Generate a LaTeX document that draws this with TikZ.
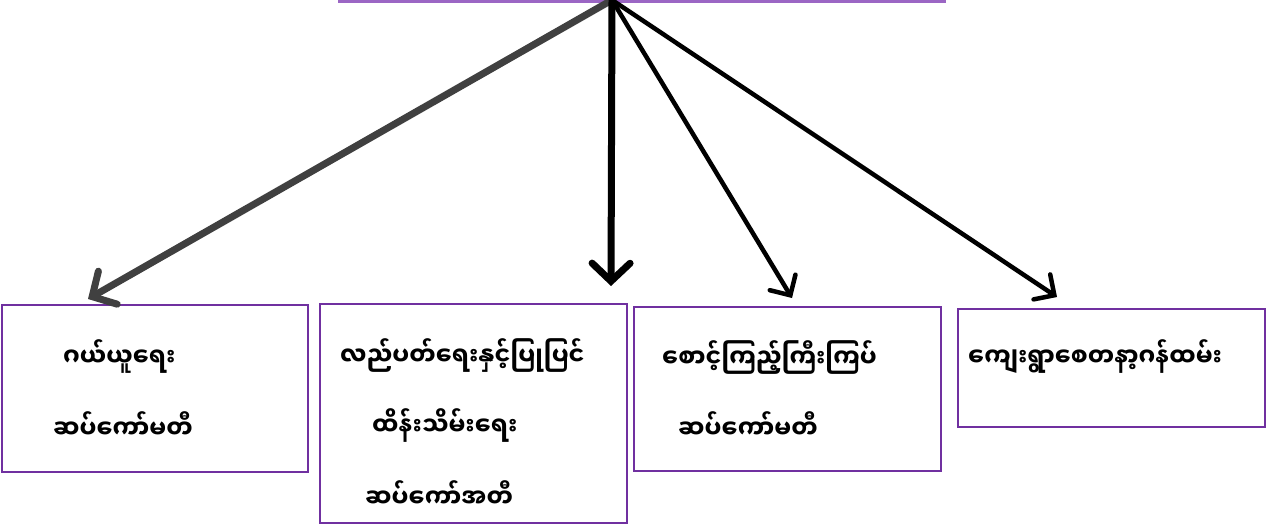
\documentclass[tikz,border=0pt]{standalone}
\usepackage{fontspec}
\newfontfamily\mmfont[Script=Myanmar, FakeStretch=0.93]{Noto Sans Myanmar UI}
\usetikzlibrary{arrows.meta}

\tikzstyle{cmte-box}=[rectangle, draw={BoxPurple}, line width=2.5pt, inner sep=0pt]
\tikzstyle{cmte-line}=[anchor=west, inner sep=0pt, font=\mmfont\bfseries\fontsize{25.5}{30}\selectfont]
\tikzstyle{branch}=[line join=round, -{Straight Barb[length=18pt, width=38pt, line cap=round]}]
\tikzstyle{branch-thin}=[line join=round, -{Straight Barb[length=15pt, width=30pt, line cap=round]}]
\definecolor{BoxPurple}{HTML}{7030a0}
\definecolor{TopPurple}{HTML}{9b66c4}
\definecolor{ArrowGrey}{HTML}{404040}

\begin{document}
\begin{tikzpicture}[x=1pt, y=-1pt]
      \useasboundingbox (0,0) rectangle (1266,528);

      \node (cmte-top) at (642,1.5) [cmte-box, draw={TopPurple}, outer sep=0pt, anchor=south, minimum width=605, minimum height=80] {};
      \coordinate (hub) at (612,0);

      \node (cmte-rescue) at (155,388.5) [cmte-box, minimum width=306, minimum height=167] {};
      \node (cmte-ops) at (473.5,413.5) [cmte-box, minimum width=307, minimum height=219] {};
      \node (cmte-watch) at (787.5,389) [cmte-box, minimum width=307, minimum height=164] {};
      \node (cmte-staff) at (1111.5,368) [cmte-box, minimum width=307, minimum height=118] {};

      \node (rescue-a) at (63,357) [cmte-line] {ဂယ်ယူရေး};
      \node (rescue-b) at (53,425) [cmte-line] {ဆပ်ကော်မတီ};

      \node (ops-a) at (340,356) [cmte-line] {လည်ပတ်ရေးနှင့်ပြုပြင်};
      \node (ops-b) at (372,426) [cmte-line] {ထိန်းသိမ်းရေး};
      \node (ops-c) at (365,494) [cmte-line] {ဆပ်ကော်အတီ};

      \node (watch-a) at (662,358) [cmte-line] {စောင့်ကြည့်ကြီးကြပ်};
      \node (watch-b) at (678,425) [cmte-line] {ဆပ်ကော်မတီ};

      \node (staff-a) at (968,357) [cmte-line] {ကျေးရွာစေတနာ့ဂန်ထမ်း};

      \coordinate (tip-rescue) at (88,299);
      \coordinate (tip-ops) at (611,286);
      \coordinate (tip-watch) at (792,298);
      \coordinate (tip-staff) at (1057,297);

      \draw[branch, draw={ArrowGrey}, line width=7pt] (hub) -- (tip-rescue);
      \draw[branch, line width=7pt] (hub) -- (tip-ops);
      \draw[branch-thin, line width=4.5pt] (hub) -- (tip-watch);
      \draw[branch-thin, line width=4.5pt] (hub) -- (tip-staff);
    \end{tikzpicture}
\end{document}
